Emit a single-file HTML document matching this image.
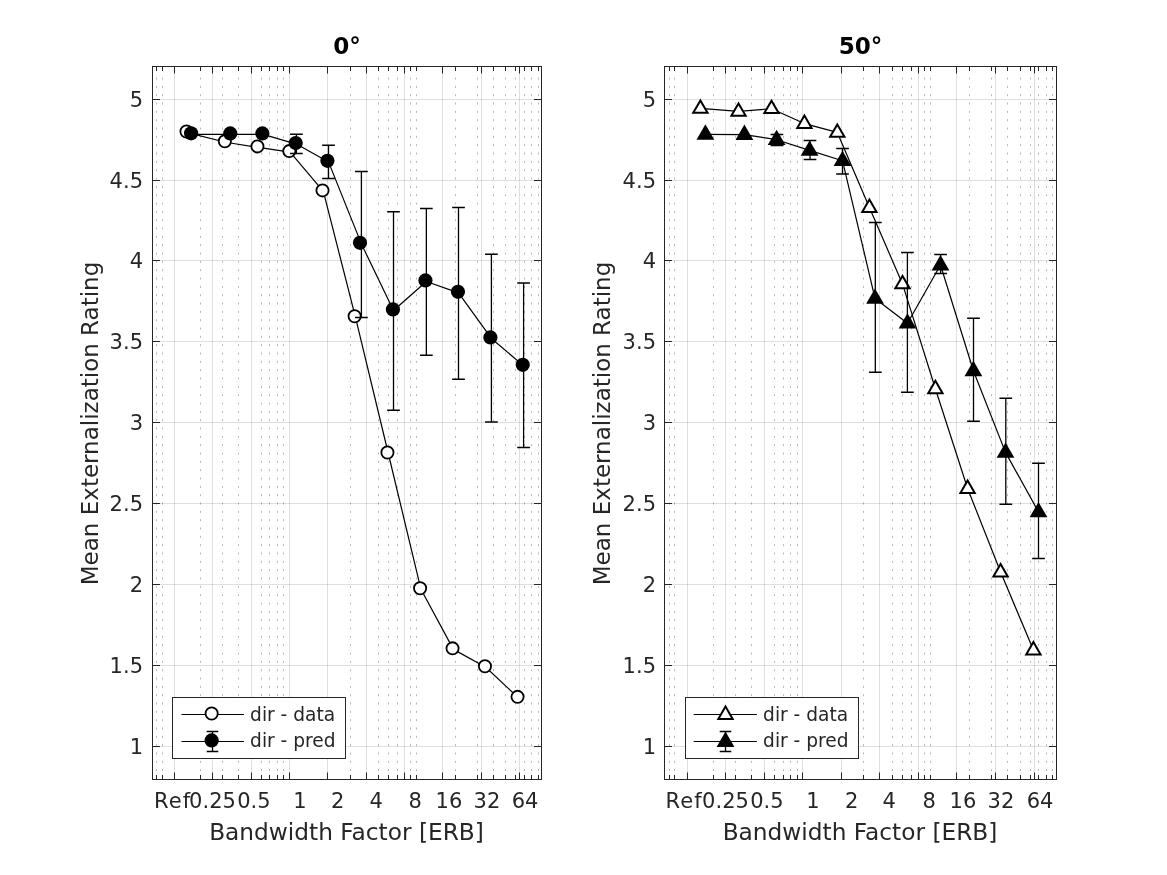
<!DOCTYPE html>
<html><head><meta charset="utf-8"><title>Mean Externalization Rating vs Bandwidth Factor</title>
<style>
html,body{margin:0;padding:0;background:#fff;}
body{width:1167px;height:875px;overflow:hidden;}
svg{display:block;}
svg{will-change:transform;}
text{font-family:"DejaVu Sans","Liberation Sans",sans-serif;}
.tk{font-size:21px;fill:#262626;}
.lb{font-size:23.25px;fill:#262626;}
.ti{font-size:23.1px;font-weight:bold;fill:#000;}
.lg{font-size:18.6px;fill:#262626;}
</style></head><body>
<svg width="1167" height="875" viewBox="0 0 1167 875">
<rect width="1167" height="875" fill="#fff"/>
<path d="M174.5 779.5V66.5M212.5 779.5V66.5M251.5 779.5V66.5M289.5 779.5V66.5M327.5 779.5V66.5M366.5 779.5V66.5M404.5 779.5V66.5M442.5 779.5V66.5M481.5 779.5V66.5M519.5 779.5V66.5M152.5 746.5H541.5M152.5 665.5H541.5M152.5 584.5H541.5M152.5 503.5H541.5M152.5 422.5H541.5M152.5 341.5H541.5M152.5 260.5H541.5M152.5 180.5H541.5M152.5 99.5H541.5" stroke="#262626" stroke-opacity="0.15" stroke-width="1" fill="none"/>
<path d="M156.5 779.5V66.5M162.5 779.5V66.5M200.5 779.5V66.5M222.5 779.5V66.5M238.5 779.5V66.5M261.5 779.5V66.5M269.5 779.5V66.5M277.5 779.5V66.5M283.5 779.5V66.5M350.5 779.5V66.5M378.5 779.5V66.5M388.5 779.5V66.5M397.5 779.5V66.5M410.5 779.5V66.5M416.5 779.5V66.5M455.5 779.5V66.5M477.5 779.5V66.5M493.5 779.5V66.5M505.5 779.5V66.5M515.5 779.5V66.5M524.5 779.5V66.5M531.5 779.5V66.5M538.5 779.5V66.5" stroke="#262626" stroke-opacity="0.33" stroke-width="1" stroke-dasharray="2 6.333" fill="none"/>
<polyline points="187.35,132.6 225.7,142.25 258.3,147.45 290.15,152.15 323.35,191.45 355.5,317.3 388.3,453.5 420.95,589.3 453.4,649.4 485.8,667.25 518.4,697.9" fill="none" stroke="#000" stroke-width="1.2" stroke-linejoin="round"/>
<circle cx="186.5" cy="131.55" r="6.1" fill="#fff" stroke="#000" stroke-width="1.8"/>
<circle cx="224.85" cy="141.2" r="6.1" fill="#fff" stroke="#000" stroke-width="1.8"/>
<circle cx="257.45" cy="146.4" r="6.1" fill="#fff" stroke="#000" stroke-width="1.8"/>
<circle cx="289.3" cy="151.1" r="6.1" fill="#fff" stroke="#000" stroke-width="1.8"/>
<circle cx="322.5" cy="190.4" r="6.1" fill="#fff" stroke="#000" stroke-width="1.8"/>
<circle cx="354.65" cy="316.25" r="6.1" fill="#fff" stroke="#000" stroke-width="1.8"/>
<circle cx="387.45" cy="452.45" r="6.1" fill="#fff" stroke="#000" stroke-width="1.8"/>
<circle cx="420.1" cy="588.25" r="6.1" fill="#fff" stroke="#000" stroke-width="1.8"/>
<circle cx="452.55" cy="648.35" r="6.1" fill="#fff" stroke="#000" stroke-width="1.8"/>
<circle cx="484.95" cy="666.2" r="6.1" fill="#fff" stroke="#000" stroke-width="1.8"/>
<circle cx="517.55" cy="696.85" r="6.1" fill="#fff" stroke="#000" stroke-width="1.8"/>
<polyline points="191.95,134.35 231.1,134.45 263.2,134.45 296.4,144.05 328.5,161.9 361.4,243.9 393.5,310.45 426.35,281.45 458.5,292.9 491.4,338.45 523.6,365.9" fill="none" stroke="#000" stroke-width="1.2" stroke-linejoin="round"/>
<path d="M296.4 134.3V153.4" stroke="#000" stroke-width="1.3" fill="none"/><path d="M290.05 134.3H302.75M290.05 153.4H302.75" stroke="#000" stroke-width="1.5" fill="none"/>
<path d="M328.5 145.35V178.4" stroke="#000" stroke-width="1.3" fill="none"/><path d="M322.15 145.35H334.85M322.15 178.4H334.85" stroke="#000" stroke-width="1.5" fill="none"/>
<path d="M361.4 171.4V317.5" stroke="#000" stroke-width="1.3" fill="none"/><path d="M355.05 171.4H367.75M355.05 317.5H367.75" stroke="#000" stroke-width="1.5" fill="none"/>
<path d="M393.5 211.65V410.2" stroke="#000" stroke-width="1.3" fill="none"/><path d="M387.15 211.65H399.85M387.15 410.2H399.85" stroke="#000" stroke-width="1.5" fill="none"/>
<path d="M426.35 208.4V355.2" stroke="#000" stroke-width="1.3" fill="none"/><path d="M420 208.4H432.7M420 355.2H432.7" stroke="#000" stroke-width="1.5" fill="none"/>
<path d="M458.5 207.5V379.2" stroke="#000" stroke-width="1.3" fill="none"/><path d="M452.15 207.5H464.85M452.15 379.2H464.85" stroke="#000" stroke-width="1.5" fill="none"/>
<path d="M491.4 254.2V422" stroke="#000" stroke-width="1.3" fill="none"/><path d="M485.05 254.2H497.75M485.05 422H497.75" stroke="#000" stroke-width="1.5" fill="none"/>
<path d="M523.6 283V447.6" stroke="#000" stroke-width="1.3" fill="none"/><path d="M517.25 283H529.95M517.25 447.6H529.95" stroke="#000" stroke-width="1.5" fill="none"/>
<circle cx="191.1" cy="133.3" r="7.1" fill="#000"/>
<circle cx="230.25" cy="133.4" r="7.1" fill="#000"/>
<circle cx="262.35" cy="133.4" r="7.1" fill="#000"/>
<circle cx="295.7" cy="143" r="7.1" fill="#000"/>
<circle cx="327.4" cy="160.85" r="7.1" fill="#000"/>
<circle cx="360" cy="242.85" r="7.1" fill="#000"/>
<circle cx="392.95" cy="309.4" r="7.1" fill="#000"/>
<circle cx="425.45" cy="280.4" r="7.1" fill="#000"/>
<circle cx="457.95" cy="291.85" r="7.1" fill="#000"/>
<circle cx="490.4" cy="337.4" r="7.1" fill="#000"/>
<circle cx="522.75" cy="364.85" r="7.1" fill="#000"/>
<path d="M174.5 779.5v-7M174.5 66.5v7M212.5 779.5v-7M212.5 66.5v7M251.5 779.5v-7M251.5 66.5v7M289.5 779.5v-7M289.5 66.5v7M327.5 779.5v-7M327.5 66.5v7M366.5 779.5v-7M366.5 66.5v7M404.5 779.5v-7M404.5 66.5v7M442.5 779.5v-7M442.5 66.5v7M481.5 779.5v-7M481.5 66.5v7M519.5 779.5v-7M519.5 66.5v7M156.5 779.5v-4.5M156.5 66.5v4.5M162.5 779.5v-4.5M162.5 66.5v4.5M200.5 779.5v-4.5M200.5 66.5v4.5M222.5 779.5v-4.5M222.5 66.5v4.5M238.5 779.5v-4.5M238.5 66.5v4.5M261.5 779.5v-4.5M261.5 66.5v4.5M269.5 779.5v-4.5M269.5 66.5v4.5M277.5 779.5v-4.5M277.5 66.5v4.5M283.5 779.5v-4.5M283.5 66.5v4.5M350.5 779.5v-4.5M350.5 66.5v4.5M378.5 779.5v-4.5M378.5 66.5v4.5M388.5 779.5v-4.5M388.5 66.5v4.5M397.5 779.5v-4.5M397.5 66.5v4.5M410.5 779.5v-4.5M410.5 66.5v4.5M416.5 779.5v-4.5M416.5 66.5v4.5M455.5 779.5v-4.5M455.5 66.5v4.5M477.5 779.5v-4.5M477.5 66.5v4.5M493.5 779.5v-4.5M493.5 66.5v4.5M505.5 779.5v-4.5M505.5 66.5v4.5M515.5 779.5v-4.5M515.5 66.5v4.5M524.5 779.5v-4.5M524.5 66.5v4.5M531.5 779.5v-4.5M531.5 66.5v4.5M538.5 779.5v-4.5M538.5 66.5v4.5M152.5 746.5h7.5M541.5 746.5h-7.5M152.5 665.5h7.5M541.5 665.5h-7.5M152.5 584.5h7.5M541.5 584.5h-7.5M152.5 503.5h7.5M541.5 503.5h-7.5M152.5 422.5h7.5M541.5 422.5h-7.5M152.5 341.5h7.5M541.5 341.5h-7.5M152.5 260.5h7.5M541.5 260.5h-7.5M152.5 180.5h7.5M541.5 180.5h-7.5M152.5 99.5h7.5M541.5 99.5h-7.5" stroke="#262626" stroke-width="1" fill="none"/>
<rect x="152.5" y="66.5" width="389" height="713" fill="none" stroke="#262626" stroke-width="1"/>
<text x="153.9" y="807.6" class="tk" letter-spacing="1.1">Ref</text>
<text x="212.5" y="807.6" text-anchor="middle" class="tk">0.25</text>
<text x="253.9" y="807.6" text-anchor="middle" class="tk">0.5</text>
<text x="299.9" y="807.6" text-anchor="middle" class="tk">1</text>
<text x="337.7" y="807.6" text-anchor="middle" class="tk">2</text>
<text x="376.1" y="807.6" text-anchor="middle" class="tk">4</text>
<text x="415.1" y="807.6" text-anchor="middle" class="tk">8</text>
<text x="448.9" y="807.6" text-anchor="middle" class="tk">16</text>
<text x="486.9" y="807.6" text-anchor="middle" class="tk">32</text>
<text x="525.1" y="807.6" text-anchor="middle" class="tk">64</text>
<text x="143" y="753.8" text-anchor="end" class="tk">1</text>
<text x="143" y="672.8" text-anchor="end" class="tk">1.5</text>
<text x="143" y="591.8" text-anchor="end" class="tk">2</text>
<text x="143" y="510.8" text-anchor="end" class="tk">2.5</text>
<text x="143" y="429.8" text-anchor="end" class="tk">3</text>
<text x="143" y="348.8" text-anchor="end" class="tk">3.5</text>
<text x="143" y="267.8" text-anchor="end" class="tk">4</text>
<text x="143" y="187.8" text-anchor="end" class="tk">4.5</text>
<text x="143" y="106.8" text-anchor="end" class="tk">5</text>
<text x="346.5" y="839.9" text-anchor="middle" class="lb">Bandwidth Factor [ERB]</text>
<text transform="translate(97.7,423.5) rotate(-90)" text-anchor="middle" class="lb" style="font-size:23px">Mean Externalization Rating</text>
<text x="347" y="54" text-anchor="middle" class="ti">0°</text>
<rect x="172.5" y="697.5" width="173" height="61" fill="#fff" stroke="#262626" stroke-width="1"/>
<path d="M181.5 714.5H243.9M181.5 741.5H243.9" stroke="#000" stroke-width="1.2"/>
<path d="M212.5 731.5V751.5" stroke="#000" stroke-width="1.3" fill="none"/><path d="M206.7 731.5H218.3M206.7 751.5H218.3" stroke="#000" stroke-width="1.5" fill="none"/>
<circle cx="211.65" cy="713.45" r="6.1" fill="#fff" stroke="#000" stroke-width="1.8"/>
<circle cx="211.65" cy="740.45" r="7.1" fill="#000"/>
<text x="250.1" y="720.6" class="lg">dir - data</text>
<text x="250.1" y="747.3" class="lg">dir - pred</text>
<path d="M687.5 779.5V66.5M725.5 779.5V66.5M764.5 779.5V66.5M802.5 779.5V66.5M841.5 779.5V66.5M879.5 779.5V66.5M918.5 779.5V66.5M956.5 779.5V66.5M995.5 779.5V66.5M1034.5 779.5V66.5M664.5 746.5H1056.5M664.5 665.5H1056.5M664.5 584.5H1056.5M664.5 503.5H1056.5M664.5 422.5H1056.5M664.5 341.5H1056.5M664.5 260.5H1056.5M664.5 180.5H1056.5M664.5 99.5H1056.5" stroke="#262626" stroke-opacity="0.15" stroke-width="1" fill="none"/>
<path d="M669.5 779.5V66.5M674.5 779.5V66.5M713.5 779.5V66.5M735.5 779.5V66.5M751.5 779.5V66.5M774.5 779.5V66.5M783.5 779.5V66.5M790.5 779.5V66.5M797.5 779.5V66.5M863.5 779.5V66.5M892.5 779.5V66.5M902.5 779.5V66.5M911.5 779.5V66.5M924.5 779.5V66.5M930.5 779.5V66.5M969.5 779.5V66.5M991.5 779.5V66.5M1007.5 779.5V66.5M1020.5 779.5V66.5M1030.5 779.5V66.5M1038.5 779.5V66.5M1046.5 779.5V66.5M1052.5 779.5V66.5" stroke="#262626" stroke-opacity="0.33" stroke-width="1" stroke-dasharray="2 6.333" fill="none"/>
<polyline points="700.4,108.4 738.5,111.4 771.5,108.7 804.4,123.55 837.3,132.4 869.4,207.5 902.5,283.9 935.4,388.8 967.6,488.5 1000.6,572 1033.4,650" fill="none" stroke="#000" stroke-width="1.2" stroke-linejoin="round"/>
<polygon points="700.4,98.4 691.5,113.8 709.3,113.8" fill="#000"/><polygon points="700.4,102.4 694.97,111.8 705.83,111.8" fill="#fff"/>
<polygon points="738.5,101.4 729.6,116.8 747.4,116.8" fill="#000"/><polygon points="738.5,105.4 733.07,114.8 743.93,114.8" fill="#fff"/>
<polygon points="771.5,98.7 762.6,114.1 780.4,114.1" fill="#000"/><polygon points="771.5,102.7 766.07,112.1 776.93,112.1" fill="#fff"/>
<polygon points="804.4,113.55 795.5,128.95 813.3,128.95" fill="#000"/><polygon points="804.4,117.55 798.97,126.95 809.83,126.95" fill="#fff"/>
<polygon points="837.3,122.4 828.4,137.8 846.2,137.8" fill="#000"/><polygon points="837.3,126.4 831.87,135.8 842.73,135.8" fill="#fff"/>
<polygon points="869.4,197.5 860.5,212.9 878.3,212.9" fill="#000"/><polygon points="869.4,201.5 863.97,210.9 874.83,210.9" fill="#fff"/>
<polygon points="902.5,273.9 893.6,289.3 911.4,289.3" fill="#000"/><polygon points="902.5,277.9 897.07,287.3 907.93,287.3" fill="#fff"/>
<polygon points="935.4,378.8 926.5,394.2 944.3,394.2" fill="#000"/><polygon points="935.4,382.8 929.97,392.2 940.83,392.2" fill="#fff"/>
<polygon points="967.6,478.5 958.7,493.9 976.5,493.9" fill="#000"/><polygon points="967.6,482.5 962.17,491.9 973.03,491.9" fill="#fff"/>
<polygon points="1000.6,562 991.7,577.4 1009.5,577.4" fill="#000"/><polygon points="1000.6,566 995.17,575.4 1006.03,575.4" fill="#fff"/>
<polygon points="1033.4,640 1024.5,655.4 1042.3,655.4" fill="#000"/><polygon points="1033.4,644 1027.97,653.4 1038.83,653.4" fill="#fff"/>
<polyline points="705.4,134.3 744.4,134.6 776.6,139.7 809.6,150.4 842.5,160.7 875,298.4 907.5,323.2 940.5,265 973.4,370.8 1005.5,452.4 1038.5,511.9" fill="none" stroke="#000" stroke-width="1.2" stroke-linejoin="round"/>
<path d="M776.9 134.45V145.5" stroke="#000" stroke-width="1.3" fill="none"/><path d="M770.55 134.45H783.25M770.55 145.5H783.25" stroke="#000" stroke-width="1.5" fill="none"/>
<path d="M810 140.6V159.5" stroke="#000" stroke-width="1.3" fill="none"/><path d="M803.65 140.6H816.35M803.65 159.5H816.35" stroke="#000" stroke-width="1.5" fill="none"/>
<path d="M842.55 148.5V174.05" stroke="#000" stroke-width="1.3" fill="none"/><path d="M836.2 148.5H848.9M836.2 174.05H848.9" stroke="#000" stroke-width="1.5" fill="none"/>
<path d="M875.3 222.45V372.3" stroke="#000" stroke-width="1.3" fill="none"/><path d="M868.95 222.45H881.65M868.95 372.3H881.65" stroke="#000" stroke-width="1.5" fill="none"/>
<path d="M907.4 252.4V392.3" stroke="#000" stroke-width="1.3" fill="none"/><path d="M901.05 252.4H913.75M901.05 392.3H913.75" stroke="#000" stroke-width="1.5" fill="none"/>
<path d="M940.6 254.5V273.4" stroke="#000" stroke-width="1.3" fill="none"/><path d="M934.25 254.5H946.95M934.25 273.4H946.95" stroke="#000" stroke-width="1.5" fill="none"/>
<path d="M973.5 318.2V421.3" stroke="#000" stroke-width="1.3" fill="none"/><path d="M967.15 318.2H979.85M967.15 421.3H979.85" stroke="#000" stroke-width="1.5" fill="none"/>
<path d="M1005.8 398.2V504.2" stroke="#000" stroke-width="1.3" fill="none"/><path d="M999.45 398.2H1012.15M999.45 504.2H1012.15" stroke="#000" stroke-width="1.5" fill="none"/>
<path d="M1038.5 463.3V558.5" stroke="#000" stroke-width="1.3" fill="none"/><path d="M1032.15 463.3H1044.85M1032.15 558.5H1044.85" stroke="#000" stroke-width="1.5" fill="none"/>
<polygon points="705.4,124.3 696.5,139.7 714.3,139.7" fill="#000"/>
<polygon points="744.4,124.6 735.5,140 753.3,140" fill="#000"/>
<polygon points="776.6,129.7 767.7,145.1 785.5,145.1" fill="#000"/>
<polygon points="809.6,140.4 800.7,155.8 818.5,155.8" fill="#000"/>
<polygon points="842.5,150.7 833.6,166.1 851.4,166.1" fill="#000"/>
<polygon points="875,288.4 866.1,303.8 883.9,303.8" fill="#000"/>
<polygon points="907.5,313.2 898.6,328.6 916.4,328.6" fill="#000"/>
<polygon points="940.5,255 931.6,270.4 949.4,270.4" fill="#000"/>
<polygon points="973.4,360.8 964.5,376.2 982.3,376.2" fill="#000"/>
<polygon points="1005.5,442.4 996.6,457.8 1014.4,457.8" fill="#000"/>
<polygon points="1038.5,501.9 1029.6,517.3 1047.4,517.3" fill="#000"/>
<path d="M687.5 779.5v-7M687.5 66.5v7M725.5 779.5v-7M725.5 66.5v7M764.5 779.5v-7M764.5 66.5v7M802.5 779.5v-7M802.5 66.5v7M841.5 779.5v-7M841.5 66.5v7M879.5 779.5v-7M879.5 66.5v7M918.5 779.5v-7M918.5 66.5v7M956.5 779.5v-7M956.5 66.5v7M995.5 779.5v-7M995.5 66.5v7M1034.5 779.5v-7M1034.5 66.5v7M669.5 779.5v-4.5M669.5 66.5v4.5M674.5 779.5v-4.5M674.5 66.5v4.5M713.5 779.5v-4.5M713.5 66.5v4.5M735.5 779.5v-4.5M735.5 66.5v4.5M751.5 779.5v-4.5M751.5 66.5v4.5M774.5 779.5v-4.5M774.5 66.5v4.5M783.5 779.5v-4.5M783.5 66.5v4.5M790.5 779.5v-4.5M790.5 66.5v4.5M797.5 779.5v-4.5M797.5 66.5v4.5M863.5 779.5v-4.5M863.5 66.5v4.5M892.5 779.5v-4.5M892.5 66.5v4.5M902.5 779.5v-4.5M902.5 66.5v4.5M911.5 779.5v-4.5M911.5 66.5v4.5M924.5 779.5v-4.5M924.5 66.5v4.5M930.5 779.5v-4.5M930.5 66.5v4.5M969.5 779.5v-4.5M969.5 66.5v4.5M991.5 779.5v-4.5M991.5 66.5v4.5M1007.5 779.5v-4.5M1007.5 66.5v4.5M1020.5 779.5v-4.5M1020.5 66.5v4.5M1030.5 779.5v-4.5M1030.5 66.5v4.5M1038.5 779.5v-4.5M1038.5 66.5v4.5M1046.5 779.5v-4.5M1046.5 66.5v4.5M1052.5 779.5v-4.5M1052.5 66.5v4.5M664.5 746.5h7.5M1056.5 746.5h-7.5M664.5 665.5h7.5M1056.5 665.5h-7.5M664.5 584.5h7.5M1056.5 584.5h-7.5M664.5 503.5h7.5M1056.5 503.5h-7.5M664.5 422.5h7.5M1056.5 422.5h-7.5M664.5 341.5h7.5M1056.5 341.5h-7.5M664.5 260.5h7.5M1056.5 260.5h-7.5M664.5 180.5h7.5M1056.5 180.5h-7.5M664.5 99.5h7.5M1056.5 99.5h-7.5" stroke="#262626" stroke-width="1" fill="none"/>
<rect x="664.5" y="66.5" width="392" height="713" fill="none" stroke="#262626" stroke-width="1"/>
<text x="665.6" y="807.6" class="tk" letter-spacing="1.1">Ref</text>
<text x="725.5" y="807.6" text-anchor="middle" class="tk">0.25</text>
<text x="766.9" y="807.6" text-anchor="middle" class="tk">0.5</text>
<text x="812.9" y="807.6" text-anchor="middle" class="tk">1</text>
<text x="851.7" y="807.6" text-anchor="middle" class="tk">2</text>
<text x="889.1" y="807.6" text-anchor="middle" class="tk">4</text>
<text x="929.1" y="807.6" text-anchor="middle" class="tk">8</text>
<text x="962.9" y="807.6" text-anchor="middle" class="tk">16</text>
<text x="1000.9" y="807.6" text-anchor="middle" class="tk">32</text>
<text x="1040.1" y="807.6" text-anchor="middle" class="tk">64</text>
<text x="656" y="753.8" text-anchor="end" class="tk">1</text>
<text x="656" y="672.8" text-anchor="end" class="tk">1.5</text>
<text x="656" y="591.8" text-anchor="end" class="tk">2</text>
<text x="656" y="510.8" text-anchor="end" class="tk">2.5</text>
<text x="656" y="429.8" text-anchor="end" class="tk">3</text>
<text x="656" y="348.8" text-anchor="end" class="tk">3.5</text>
<text x="656" y="267.8" text-anchor="end" class="tk">4</text>
<text x="656" y="187.8" text-anchor="end" class="tk">4.5</text>
<text x="656" y="106.8" text-anchor="end" class="tk">5</text>
<text x="860" y="839.9" text-anchor="middle" class="lb">Bandwidth Factor [ERB]</text>
<text transform="translate(609.7,423.5) rotate(-90)" text-anchor="middle" class="lb" style="font-size:23px">Mean Externalization Rating</text>
<text x="860.5" y="54" text-anchor="middle" class="ti">50°</text>
<rect x="685.5" y="697.5" width="173" height="61" fill="#fff" stroke="#262626" stroke-width="1"/>
<path d="M693.7 714.5H756.9M693.7 741.5H756.9" stroke="#000" stroke-width="1.2"/>
<path d="M725.5 731.5V751.5" stroke="#000" stroke-width="1.3" fill="none"/><path d="M719.7 731.5H731.3M719.7 751.5H731.3" stroke="#000" stroke-width="1.5" fill="none"/>
<polygon points="725.5,704.5 716.6,719.9 734.4,719.9" fill="#000"/><polygon points="725.5,708.5 720.07,717.9 730.93,717.9" fill="#fff"/>
<polygon points="725.5,731.5 716.6,746.9 734.4,746.9" fill="#000"/>
<text x="763.1" y="720.6" class="lg">dir - data</text>
<text x="763.1" y="747.3" class="lg">dir - pred</text>
</svg>
</body></html>
